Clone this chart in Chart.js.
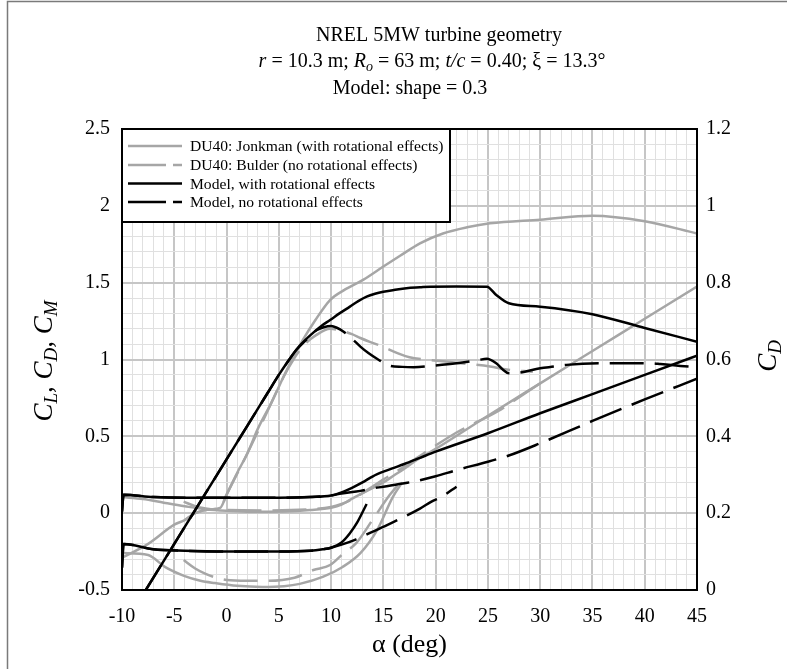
<!DOCTYPE html>
<html><head><meta charset="utf-8">
<script src="https://cdn.jsdelivr.net/npm/chart.js@4.4.0/dist/chart.umd.min.js"></script>
<style>html,body{margin:0;padding:0;background:#fff;}canvas{display:block;}</style>
</head><body>
<canvas id="c" width="787" height="669"></canvas>
<script>
// ---------- data (alpha in deg) ----------
const jonkmanCLAlpha = [-10,-7.5,-5,-4,-3,-1.5,-0.6,0,1,2,3,4.3,5.75,7.3,8.5,9.9,11.2,13.1,15,16.6,18.5,20.7,23,25.2,30,35,40,45];
const jonkmanCL      = [-0.29,-0.2,-0.075,-0.045,0.0,0.025,0.035,0.12,0.26,0.39,0.55,0.72,0.93,1.127,1.257,1.387,1.45,1.52,1.605,1.675,1.756,1.82,1.86,1.886,1.91,1.936,1.90,1.82];
const jonkmanCDAlpha = [-10,-8,-6,-4,-2,0,2,4,6,8,10,11,11.8,13,14,15,16,17,18.2,20,25,30,35,40,45];
const jonkmanCD      = [0.105,0.092,0.068,0.045,0.025,0.015,0.01,0.01,0.012,0.02,0.035,0.055,0.086,0.13,0.165,0.2,0.245,0.29,0.346,0.418,0.634,0.845,1.055,1.265,1.475];
const jonkmanCDZoomAlpha = [-10,-7.5,-5.9,-4,-2.5,-1.1,1,3.4,5.5,7,9.2,11.1,12.8,14.4,15.9,16.8];
const jonkmanCDZoom      = [0.096,0.091,0.06,0.036,0.024,0.018,0.011,0.008,0.01,0.016,0.034,0.06,0.096,0.156,0.242,0.28];

const bulderCLAlpha = [-4,-3,-1.5,-0.6,0,2,4.3,5.4,6.4,7.5,8.6,9.9,10.85,12,12.8,13.7,14.7,16.6,17.5,19,21.1,22.3,25.2,26.8,29.3];
const bulderCL      = [-0.045,0.0,0.025,0.035,0.12,0.39,0.72,0.88,1.0,1.1,1.16,1.2,1.19,1.165,1.14,1.115,1.09,1.035,1.015,1.0,0.986,0.976,0.955,0.935,0.92];
const bulderCDAlpha = [-4.1,-3,-2,0,4,8,10,11,12,13,14,15,16,18,20,22,24,26,28,30];
const bulderCD      = [0.075,0.045,0.03,0.02,0.018,0.025,0.04,0.06,0.09,0.13,0.175,0.22,0.26,0.35,0.44,0.525,0.595,0.665,0.755,0.845];
const bulderCDZoomAlpha = [-4.1,-3,-2,-1,0,2,4,6.5,8.3,9.9,11.2,12.4,14,15.6,16.6];
const bulderCDZoom      = [0.078,0.056,0.042,0.032,0.026,0.024,0.024,0.032,0.052,0.065,0.096,0.122,0.184,0.247,0.28];

const modelRotCLAlpha = [-8,-5,-2,0,2,4,5,6,6.7,7.5,8.3,9.1,9.9,10.8,11.8,12.6,13.4,14.2,15,16,17.2,18.5,19.5,22,24.9,25.8,27,30,35,40,45];
const modelRotCL      = [-0.53,-0.2,0.13,0.35,0.57,0.79,0.9,1.0,1.065,1.125,1.175,1.22,1.257,1.30,1.344,1.38,1.409,1.428,1.441,1.452,1.464,1.47,1.474,1.475,1.474,1.42,1.366,1.344,1.295,1.205,1.116];
const modelRotCDAlpha = [-10,-9.85,-7,-4,0,5,8,10,11,12,13,14,15,16,17,18.5,20,25,30,35,40,45];
const modelRotCD      = [0.01,0.12,0.105,0.1,0.1,0.1,0.105,0.115,0.135,0.165,0.2,0.24,0.27,0.295,0.32,0.36,0.4,0.52,0.65,0.775,0.9,1.025];
const modelRotCDZoomAlpha = [-10,-9.85,-7,-4,0,5,8,9.2,10,11,11.8,12.5,13.4];
const modelRotCDZoom      = [0.058,0.12,0.106,0.102,0.1,0.1,0.102,0.106,0.11,0.124,0.148,0.176,0.224];

const modelNoRotCLAlpha = [-8,-5,-2,0,2,4,5,6,6.7,7.5,8.6,9.3,10,10.6,11.2,12,12.8,13.6,14.5,15.6,16.8,17.9,19.8,22,24,24.9,25.8,26.5,27,28.1,30,31.3,32.5,35.7,38,40.8,41.5,43.4,45];
const modelNoRotCL      = [-0.53,-0.2,0.13,0.35,0.57,0.79,0.9,1.0,1.065,1.12,1.19,1.21,1.218,1.205,1.181,1.135,1.084,1.04,1.0,0.96,0.952,0.95,0.96,0.975,0.995,1.005,0.975,0.93,0.91,0.915,0.943,0.954,0.965,0.975,0.975,0.975,0.97,0.958,0.95];
const modelNoRotCDAlpha = [-10,-9.85,-7,-4,0,5,8,10,11,12.8,14,15,17,18,20,22,25,27,30,35,40,45];
const modelNoRotCD      = [0.01,0.12,0.105,0.1,0.1,0.1,0.105,0.115,0.128,0.145,0.162,0.172,0.195,0.207,0.24,0.28,0.335,0.375,0.455,0.6,0.74,0.875];
const modelNoRotCDZoomAlpha = [-10,-9.85,-7,-4,0,5,8,9.2,10,11,12.4,14,15.6,16.5,18.5,19.6,20.6,22];
const modelNoRotCDZoom      = [0.058,0.12,0.106,0.102,0.1,0.1,0.102,0.106,0.11,0.118,0.132,0.152,0.172,0.184,0.212,0.23,0.243,0.269];

const xTickLabels = [-10,-5,0,5,10,15,20,25,30,35,40,45];
const yLeftTickLabels = [-0.5,0,0.5,1,1.5,2,2.5];
const yRightTickLabels = [0,0.2,0.4,0.6,0.8,1,1.2];

const legendLabels = ['DU40: Jonkman (with rotational effects)','DU40: Bulder (no rotational effects)','Model, with rotational effects','Model, no rotational effects'];

// ---------- styling ----------
const F = '"Liberation Serif","Times New Roman",serif';
const GRAY = '#a6a6a6', BLACK = '#000000';
const DASH = [34, 11];

function pts(a, v) { return a.map((x, i) => ({ x: x, y: v[i] })); }
function ds(label, a, v, color, dashed, axis) {
  return { label, data: pts(a, v), borderColor: color, backgroundColor: color, borderWidth: 2.5,
    borderDash: dashed ? DASH : [], yAxisID: axis, pointRadius: 0, pointHoverRadius: 0, fill: false,
    cubicInterpolationMode: 'monotone', borderCapStyle: 'butt', borderJoinStyle: 'round' };
}

const datasets = [
  ds('modelRotCL', modelRotCLAlpha, modelRotCL, BLACK, false, 'y'),
  ds('modelRotCD', modelRotCDAlpha, modelRotCD, BLACK, false, 'y'),
  ds('modelRotCDZoom', modelRotCDZoomAlpha, modelRotCDZoom, BLACK, false, 'y2'),
  ds('modelNoRotCL', modelNoRotCLAlpha, modelNoRotCL, BLACK, true, 'y'),
  ds('modelNoRotCD', modelNoRotCDAlpha, modelNoRotCD, BLACK, true, 'y'),
  ds('modelNoRotCDZoom', modelNoRotCDZoomAlpha, modelNoRotCDZoom, BLACK, true, 'y2'),
  ds('jonkmanCL', jonkmanCLAlpha, jonkmanCL, GRAY, false, 'y'),
  ds('jonkmanCD', jonkmanCDAlpha, jonkmanCD, GRAY, false, 'y'),
  ds('jonkmanCDZoom', jonkmanCDZoomAlpha, jonkmanCDZoom, GRAY, false, 'y2'),
  ds('bulderCL', bulderCLAlpha, bulderCL, GRAY, true, 'y'),
  ds('bulderCD', bulderCDAlpha, bulderCD, GRAY, true, 'y'),
  ds('bulderCDZoom', bulderCDZoomAlpha, bulderCDZoom, GRAY, true, 'y2')
];

function runsWidth(ctx, runs) { let w = 0; for (const r of runs) { ctx.font = r.f; w += ctx.measureText(r.t).width; } return w; }
function drawRuns(ctx, runs, cx, y) {
  const w = runsWidth(ctx, runs); let x = cx - w / 2;
  ctx.textAlign = 'left'; ctx.textBaseline = 'alphabetic'; ctx.fillStyle = '#000';
  for (const r of runs) { ctx.font = r.f; ctx.fillText(r.t, x, y + (r.dy || 0)); x += ctx.measureText(r.t).width; }
}
const n20 = `20px ${F}`, i20 = `italic 20px ${F}`, i14 = `italic 14px ${F}`;
const i27 = `italic 27px ${F}`, i19 = `italic 19px ${F}`;

const decor = {
  id: 'decor',
  afterDatasetsDraw(chart) {
    const ctx = chart.ctx, a = chart.chartArea;
    ctx.save();
    const lx = a.left, ly = a.top, lw = 328, lh = 93;
    ctx.fillStyle = '#fff'; ctx.fillRect(lx, ly, lw, lh);
    ctx.strokeStyle = '#000'; ctx.lineWidth = 2; ctx.strokeRect(lx, ly, lw, lh);
    const styles = [[GRAY, false], [GRAY, true], [BLACK, false], [BLACK, true]];
    const rows = [146, 165, 183.5, 202];
    for (let i = 0; i < 4; i++) {
      ctx.beginPath(); ctx.strokeStyle = styles[i][0]; ctx.lineWidth = 2.6;
      ctx.setLineDash(styles[i][1] ? [38, 7] : []);
      ctx.moveTo(a.left + 6, rows[i]); ctx.lineTo(a.left + 60, rows[i]); ctx.stroke();
      ctx.setLineDash([]);
      ctx.font = `15.6px ${F}`; ctx.fillStyle = '#000'; ctx.textAlign = 'left'; ctx.textBaseline = 'middle';
      ctx.fillText(legendLabels[i], a.left + 68, rows[i] + 1);
    }
    ctx.strokeStyle = '#000'; ctx.lineWidth = 2;
    ctx.strokeRect(a.left, a.top, a.right - a.left, a.bottom - a.top);
    ctx.restore();
  },
  afterDraw(chart) {
    const ctx = chart.ctx, a = chart.chartArea;
    const cx = (a.left + a.right) / 2;
    ctx.save();
    drawRuns(ctx, [{ t: 'NREL 5MW turbine geometry', f: n20 }], 439, 41);
    drawRuns(ctx, [{ t: 'r', f: i20 }, { t: ' = 10.3 m; ', f: n20 }, { t: 'R', f: i20 }, { t: 'o', f: i14, dy: 4 },
      { t: ' = 63 m; ', f: n20 }, { t: 't/c', f: i20 }, { t: ' = 0.40; \u03BE = 13.3\u00B0', f: n20 }], 432, 67);
    drawRuns(ctx, [{ t: 'Model: shape = 0.3', f: n20 }], 410, 94);
    drawRuns(ctx, [{ t: '\u03B1 (deg)', f: `26px ${F}` }], cx, 652);
    ctx.save(); ctx.translate(43, 361); ctx.rotate(-Math.PI / 2);
    drawRuns(ctx, [{ t: 'C', f: i27 }, { t: 'L', f: i19, dy: 5 }, { t: ', C', f: i27 }, { t: 'D', f: i19, dy: 5 },
      { t: ', C', f: i27 }, { t: 'M', f: i19, dy: 5 }], 0, 9);
    ctx.restore();
    ctx.save(); ctx.translate(767, 356); ctx.rotate(-Math.PI / 2);
    drawRuns(ctx, [{ t: 'C', f: i27 }, { t: 'D', f: i19, dy: 5 }], 0, 9);
    ctx.restore();
    ctx.strokeStyle = '#7a7a7a'; ctx.lineWidth = 1.5;
    ctx.beginPath(); ctx.moveTo(7.5, 669); ctx.lineTo(7.5, 1.5); ctx.lineTo(787, 1.5); ctx.stroke();
    ctx.restore();
  }
};

const MAJOR = '#c6c6c6', MINOR = '#e0e0e0';
new Chart(document.getElementById('c'), {
  type: 'line',
  data: { datasets },
  options: {
    responsive: false, animation: false, devicePixelRatio: 1,
    layout: { padding: { top: 129, left: 0, right: 0, bottom: 0 } },
    plugins: { legend: { display: false }, tooltip: { enabled: false }, title: { display: false } },
    scales: {
      x: {
        type: 'linear', min: -10, max: 45,
        ticks: { stepSize: 1, autoSkip: false, maxRotation: 0, padding: 15, color: '#000', font: { family: F, size: 20 },
          callback: v => xTickLabels.includes(Math.round(v)) && Math.abs(v - Math.round(v)) < 1e-6 ? String(Math.round(v)) : '' },
        grid: { drawTicks: false, color: c => (Math.round(c.tick.value) % 5 === 0 ? MAJOR : MINOR),
          lineWidth: c => (Math.round(c.tick.value) % 5 === 0 ? 2 : 1) },
        border: { display: false },
        afterFit: s => { s.height = 79; }
      },
      y: {
        position: 'left', min: -0.5, max: 2.5,
        ticks: { stepSize: 0.1, autoSkip: false, padding: 12, color: '#000', font: { family: F, size: 20 },
          callback: v => { const t = Math.round(v * 10) / 10; return yLeftTickLabels.some(q => Math.abs(q - t) < 1e-6) ? String(t) : ''; } },
        grid: { drawTicks: false, color: c => (Math.round(c.tick.value * 10) % 5 === 0 ? MAJOR : MINOR),
          lineWidth: c => (Math.round(c.tick.value * 10) % 5 === 0 ? 2 : 1) },
        border: { display: false },
        afterFit: s => { s.width = 122; }
      },
      y2: {
        position: 'right', min: 0, max: 1.2,
        ticks: { stepSize: 0.2, autoSkip: false, padding: 9, color: '#000', font: { family: F, size: 20 },
          callback: v => { const t = Math.round(v * 10) / 10; return yRightTickLabels.some(q => Math.abs(q - t) < 1e-6) ? String(t) : ''; } },
        grid: { display: false, drawTicks: false },
        border: { display: false },
        afterFit: s => { s.width = 90; }
      }
    }
  },
  plugins: [decor]
});
</script>
</body></html>
